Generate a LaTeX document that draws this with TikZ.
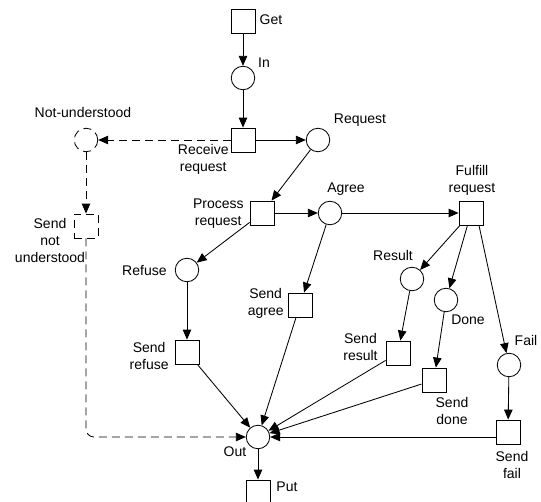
\documentclass[tikz,border=0pt]{standalone}
\usepackage{fontspec}
\setmainfont{Liberation Sans}
\usetikzlibrary{arrows.meta,positioning}

\begin{document}
\begin{tikzpicture}[->,>={Triangle[length=10pt,width=8.5pt]},x=1pt,y=-1pt,
                    on grid,line width=0.85pt,
                    place/.style={circle,draw,minimum size=23.5pt,inner sep=0pt},
                    trans/.style={rectangle,draw,minimum size=24pt,inner sep=0pt},
                    lbl/.style={font=\fontsize{14}{17}\selectfont,inner sep=0pt,align=center},
                    lost/.style={dash pattern=on 8pt off 5pt}]

\useasboundingbox (0,0) rectangle (541,501);

 \node[trans] (Get) at (243,21) {};
\node[place] (In) [below=57pt of Get] {};
\node[trans] (Recv) [below=62pt of In] {};
\node[place] (Request) [right=75pt of Recv] {};
\node[place,lost] (NotU) [left=157pt of Recv] {};
\node[trans,lost] (SendNU) [below=86pt of NotU] {};
\node[trans] (Proc) [below left=73pt and 56pt of Request] {};
\node[place] (Agree) [right=68pt of Proc] {};
\node[trans] (Fulfill) [right=141pt of Agree] {};
\node[place] (Refuse) [below left=57pt and 75pt of Proc] {};
\node[trans] (SendRefuse) [below=82pt of Refuse] {};
\node[trans] (SendAgree) [below left=92pt and 30pt of Agree] {};
\node[place] (Result) [below left=66pt and 59pt of Fulfill] {};
\node[place] (Done) [below left=87pt and 25pt of Fulfill] {};
\node[place] (Fail) [below right=152pt and 38pt of Fulfill] {};
\node[trans] (SendResult) [below left=74pt and 14pt of Result] {};
\node[trans] (SendDone) [below left=80pt and 12pt of Done] {};
\node[trans] (SendFail) [below left=67pt and 1pt of Fail] {};
\node[place] (Out) [below right=85pt and 71pt of SendRefuse] {};
\node[trans] (Put) [below=55pt of Out] {};

% labels
\node[lbl] (GetL) at (271,20) {Get};
\node[lbl] (InL) at (264,63) {In};
\node[lbl,anchor=east] (RecvL) at (229,159) {Receive\\request};
\node[lbl] (NotUL) at (83,112) {Not-understood};
\node[lbl] (SendNUL) at (50,240) {Send\\not\\understood};
\node[lbl] (RequestL) at (360,120) {Request};
\node[lbl,anchor=east] (ProcL) at (244,214) {Process\\request};
\node[lbl] (AgreeL) at (346,189) {Agree};
\node[lbl] (FulfillL) at (472,180) {Fulfill\\request};
\node[lbl,anchor=east] (RefuseL) at (167,270) {Refuse};
\node[lbl,anchor=east] (SendAgreeL) at (284,303) {Send\\agree};
\node[lbl] (ResultL) at (393,255) {Result};
\node[lbl] (DoneL) at (468,320) {Done};
\node[lbl,anchor=east] (SendResultL) at (378,347) {Send\\result};
\node[lbl,anchor=east] (SendRefuseL) at (169,356) {Send\\refuse};
\node[lbl] (FailL) at (526,340) {Fail};
\node[lbl] (SendDoneL) at (452,411) {Send\\done};
\node[lbl] (SendFailL) at (512,465) {Send\\fail};
\node[lbl] (OutL) at (235,452) {Out};
\node[lbl] (PutL) at (287,487) {Put};

  \path (Get) edge (In)
        (In) edge (Recv)
        (Recv) edge (Request)
        (Request) edge (Proc)
        (Proc) edge (Agree)
               edge (Refuse)
        (Agree) edge (Fulfill)
                edge (SendAgree)
        (Fulfill) edge (Result)
                  edge (Done)
        ([xshift=8pt]Fulfill.south) edge (Fail)
        (Result) edge (SendResult)
        (Done) edge (SendDone)
        (Fail) edge (SendFail)
        (Refuse) edge (SendRefuse)
        (SendRefuse) edge (Out)
        (SendAgree) edge (Out)
        (SendResult) edge (Out)
        (SendDone) edge (Out)
        (SendFail.west |- Out) edge (Out)
        (Out) edge (Put);

  \path[lost] (Recv) edge (NotU)
              (NotU) edge (SendNU);
  \draw[lost,rounded corners=8pt] (SendNU) |- (Out);

\end{tikzpicture}
\end{document}
